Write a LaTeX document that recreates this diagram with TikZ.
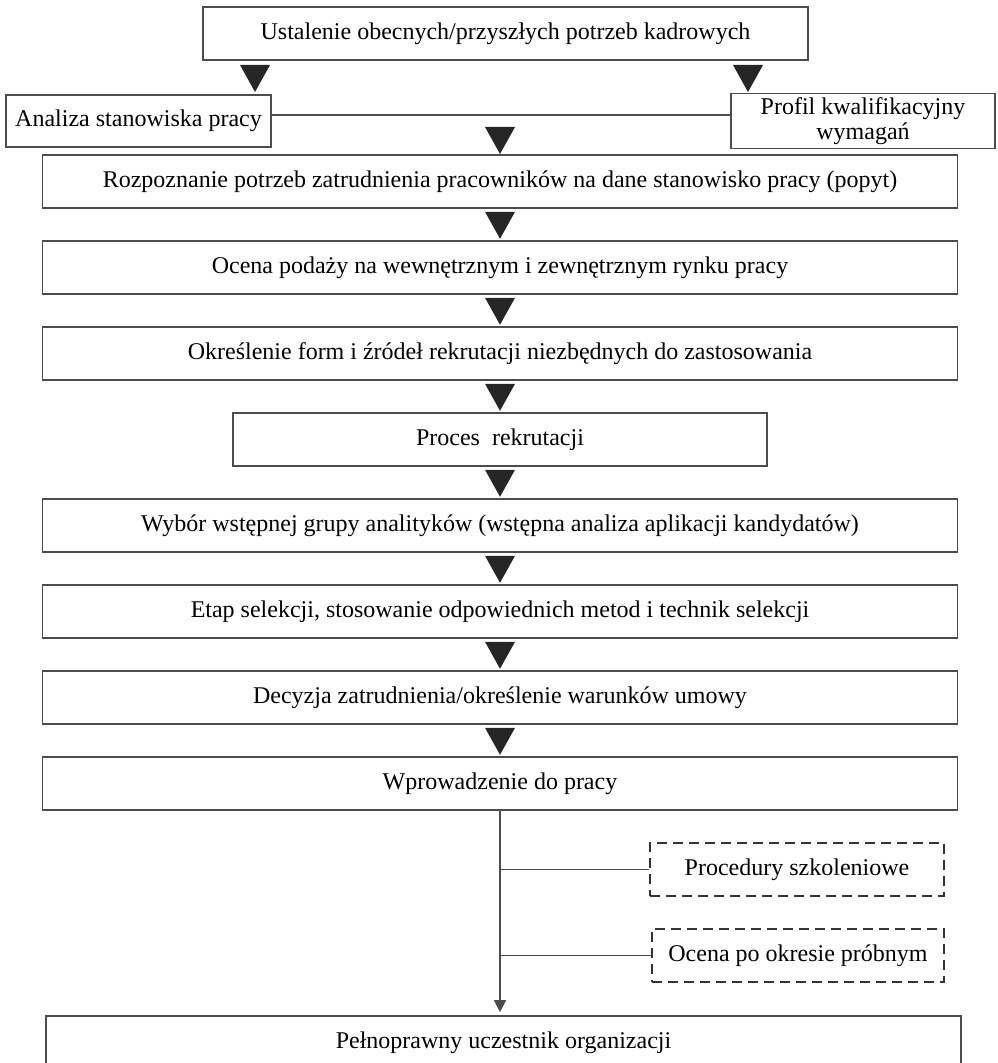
\documentclass[tikz,border=0pt]{standalone}
\usepackage{fontspec}
\setmainfont{Liberation Serif}
\usetikzlibrary{arrows.meta,calc}
\newcommand{\dreieck}[1]{\fill[black!85] (#1) ++(-15,0) -- ++(30,0) -- ++(-15,27) -- cycle;}
\begin{document}
\begin{tikzpicture}[x=0.5pt,y=-0.5pt]
\tikzset{kasten/.style={rectangle, draw=black!70, line width=0.8pt, minimum width=457.5pt, minimum height=26.5pt, inner sep=2pt, font=\fontsize{12}{12.5}\selectfont, align=center},
	strich/.style={kasten, draw=black!80, dash pattern=on 5pt off 3pt},
	linie/.style={draw=black!70, line width=0.6pt}}
\clip (0,0) rectangle (997,1063);
\node[kasten, minimum width=302.5pt] at (505.5,33.5) (top) {Ustalenie obecnych/przyszłych potrzeb kadrowych};
\node[kasten, minimum width=132.5pt, minimum height=26pt] at (138.5,121) (ana) {Analiza stanowiska pracy};
\node[kasten, minimum width=132pt, minimum height=26pt] at (863,121) (prof) {Profil kwalifikacyjny\\wymagań};
\node[kasten] at (500,181.5) (r1) {Rozpoznanie potrzeb zatrudnienia pracowników na dane stanowisko pracy (popyt)};
\node[kasten] at (500,267.5) (r2) {Ocena podaży na wewnętrznym i zewnętrznym rynku pracy};
\node[kasten] at (500,353.5) (r3) {Określenie form i źródeł rekrutacji niezbędnych do zastosowania};
\node[kasten, minimum width=267pt] at (500,439.5) (r4) {Proces~ rekrutacji};
\node[kasten] at (500,525.5) (r5) {Wybór wstępnej grupy analityków (wstępna analiza aplikacji kandydatów)};
\node[kasten] at (500,611.5) (r6) {Etap selekcji, stosowanie odpowiednich metod i technik selekcji};
\node[kasten] at (500,697.5) (r7) {Decyzja zatrudnienia/określenie warunków umowy};
\node[kasten] at (500,783.5) (r8) {Wprowadzenie do pracy};
\node[strich, minimum width=147pt] at (797,869.5) (proc) {Procedury szkoleniowe};
\node[strich, minimum width=146pt] at (798,955.5) (prob) {Ocena po okresie próbnym};
\node[kasten] at (503.5,1042.5) (pel) {Pełnoprawny uczestnik organizacji};

			% Dreiecke
			\dreieck{255,65}
			\dreieck{748,65}
			\dreieck{500,127}
			\foreach \a/\b in {r1/r2, r2/r3, r3/r4, r4/r5, r5/r6, r6/r7, r7/r8}
				{\dreieck{$(\a.south)+(0,3)$}}

			\draw [linie] ([yshift=3pt]ana.east) -- ([yshift=3pt]prof.west);
			\draw [linie, -{Triangle[length=6pt,width=6pt]}] (r8.south) -- ($(r8.south |- pel.north)+(0,-3)$);
			\draw [linie] (r8.south |- proc.west) -- (proc.west);
			\draw [linie] (r8.south |- prob.west) -- (prob.west);
		\end{tikzpicture}
\end{document}
